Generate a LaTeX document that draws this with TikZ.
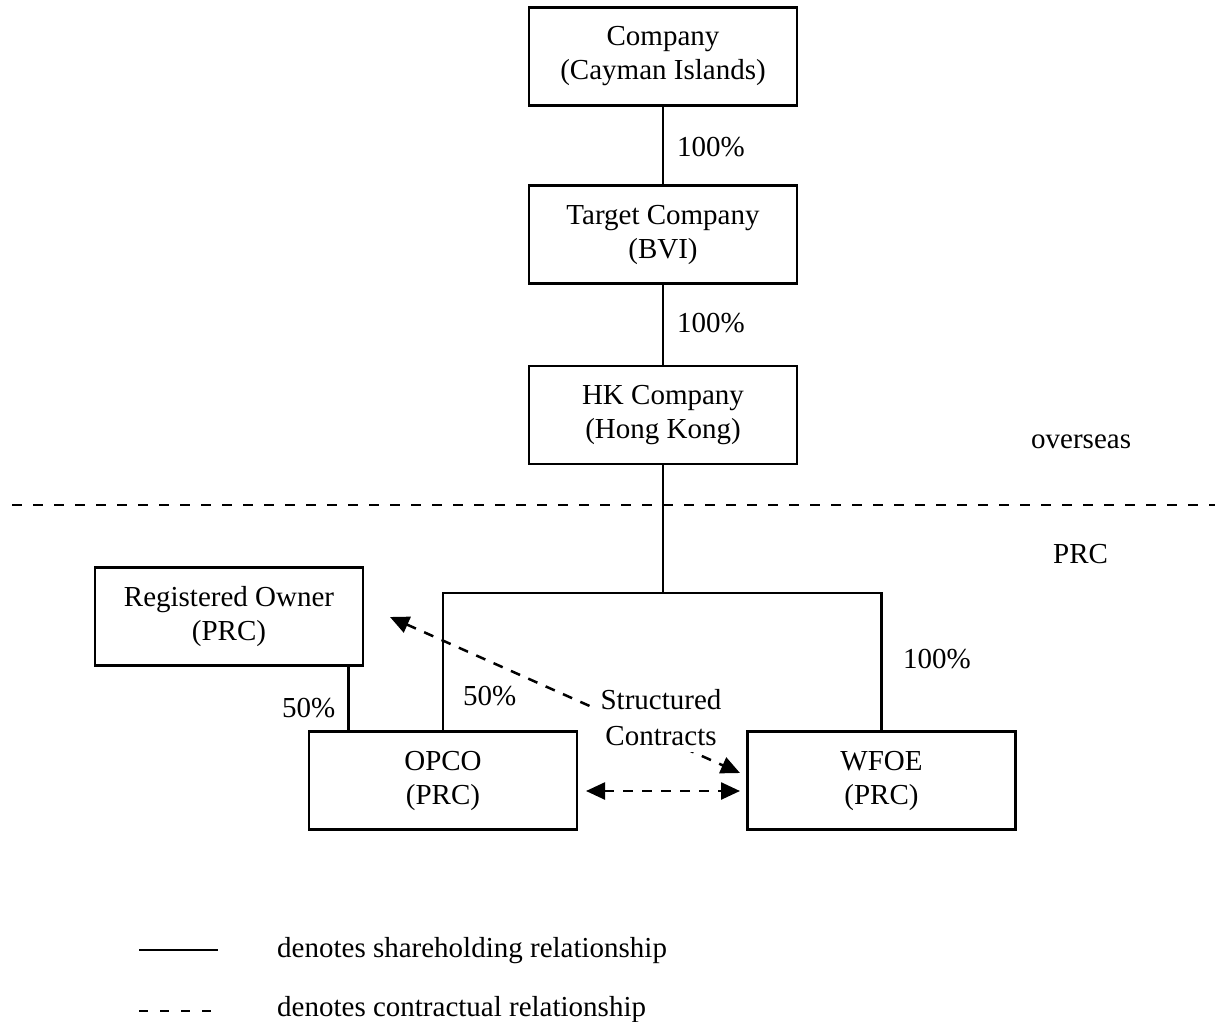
\documentclass[tikz,border=0pt]{standalone}
\usepackage{fontspec}
\setmainfont{Liberation Serif}
\usetikzlibrary{arrows.meta,calc}
\begin{document}
\begin{tikzpicture}[x=1pt,y=-1pt,
  every node/.style={font=\fontsize{29}{34}\selectfont},
  entity/.style={draw,line width=2.5pt,minimum width=268pt,minimum height=98pt,align=center,inner sep=0pt},
  share/.style={line width=2.5pt},
  contract/.style={line width=2.5pt,dash pattern=on 10pt off 9pt,{Triangle[length=19pt,width=17pt]}-{Triangle[length=19pt,width=17pt]}},
  border/.style={line width=2.5pt,dash pattern=on 10pt off 11pt},
  lbl/.style={anchor=base west,inner sep=0pt}]
\useasboundingbox (0,0) rectangle (1215,1022);

% entities
\node[entity] (co) at (663,56.5) {Company\\(Cayman Islands)};
\node[entity] (tc) at (663,234.5) {Target Company\\(BVI)};
\node[entity] (hk) at (663,415) {HK Company\\(Hong Kong)};
\node[entity] (ro) at (229,616.5) {Registered Owner\\(PRC)};
\node[entity] (op) at (443,780.5) {OPCO\\(PRC)};
\node[entity] (wf) at (881.5,780.5) {WFOE\\(PRC)};

% overseas / PRC boundary
\coordinate (bl) at (12,505);
\coordinate (br) at (1215,505);
\draw[border] (bl) -- (br);
\node[lbl] (ovs) at (1031,448.5) {overseas};
\node[lbl] (prc) at (1053,563) {PRC};

% shareholding lines
\coordinate (jn) at (663,593);
\draw[share] (co) -- (tc);
\draw[share] (tc) -- (hk);
\draw[share] (hk) -- (jn);
\draw[share] (op.north) |- (jn) -| (wf.north);
\draw[share] ([xshift=-16pt]ro.south east) -- ([xshift=-16pt]ro.south east |- op.north);

\node[lbl] (p1) at (677,157) {100\%};
\node[lbl] (p2) at (677,332) {100\%};
\node[lbl] (p3) at (903,668) {100\%};
\node[lbl] (p4) at (282,717) {50\%};
\node[lbl] (p5) at (463,705) {50\%};

% contractual arrows
\coordinate (ca) at (390,617);
\coordinate (cb) at (740,773);
\coordinate (cc) at (586,791);
\coordinate (cd) at (740,791);
\draw[contract] (ca) -- (cb);
\draw[contract] (cc) -- (cd);
\node[fill=white,align=center,inner sep=6pt,font=\fontsize{29}{36}\selectfont] (sc) at (661,718) {Structured\\Contracts};

% legend
\coordinate (l1a) at (139,950);
\coordinate (l1b) at (218,950);
\coordinate (l2a) at (139,1011);
\coordinate (l2b) at (212,1011);
\draw[share] (l1a) -- (l1b);
\draw[line width=2.5pt,dash pattern=on 9pt off 12pt] (l2a) -- (l2b);
\node[lbl] (t1) at (277,957) {denotes shareholding relationship};
\node[lbl] (t2) at (277,1016) {denotes contractual relationship};
\end{tikzpicture}
\end{document}
